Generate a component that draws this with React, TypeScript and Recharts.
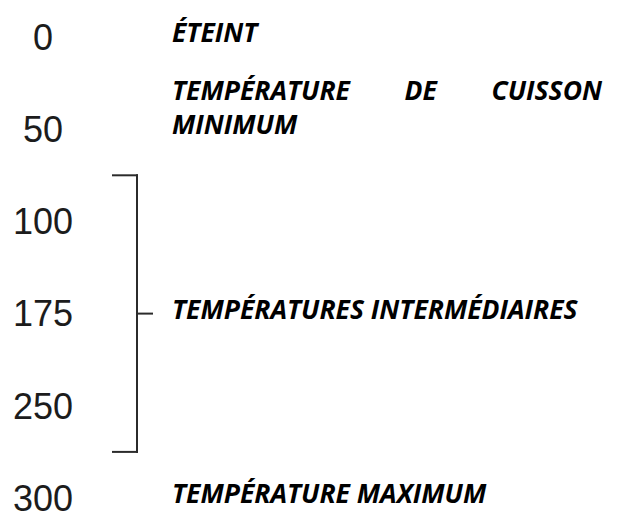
import React from 'react';
import { ComposedChart, XAxis, YAxis, Scatter, ReferenceLine } from 'recharts';

// ---- data ----
const temperatureTicks = ['0', '50', '100', '175', '250', '300'];
const rowIndex = [0, 1, 2, 3, 4, 5];
const labelRows = [0, 1, 3, 5];
const labelTexts = [
  ['ÉTEINT'],
  ['TEMPÉRATURE DE CUISSON', 'MINIMUM'],
  ['TEMPÉRATURES INTERMÉDIAIRES'],
  ['TEMPÉRATURE MAXIMUM'],
];
const bracketSpan = [1.5, 4.5];
const bracketMidRow = 3;

// ---- style ----
const W = 618;
const H = 518;
const AXIS_W = 86;
const PLOT_W = W - AXIS_W;
const NUM_CX = 43;
const NUM_FONT = "'Liberation Sans', Arial, sans-serif";
const NUM_SIZE = 36;
const LABEL_FONT_FAMILY = "'Open Sans'";
const LABEL_SIZE = 26.5;
const LABEL_LINE_H = 34;
const LABEL_BASE_DY = 5;
const LABEL_X = 86; // offset inside plot
const JUSTIFY_W = 430;
const ARM_L = 27;
const STEM = 51;
const TICK_R = 67;
const BRACKET_COLOR = '#2b2b2b';

const measureCanvas = typeof document !== 'undefined' ? document.createElement('canvas') : null;
const measure = (text: string) => {
  if (!measureCanvas) return text.length * LABEL_SIZE * 0.62;
  const ctx = measureCanvas.getContext('2d');
  if (!ctx) return text.length * LABEL_SIZE * 0.62;
  ctx.font = `italic bold ${LABEL_SIZE}px ${LABEL_FONT_FAMILY}`;
  return ctx.measureText(text).width;
};

const labelData = labelRows.map((row, i) => ({ row, x: LABEL_X, lines: labelTexts[i] }));

const NumberTick = (props: any) => {
  const { y, payload } = props;
  return (
    <text
      x={NUM_CX}
      y={y}
      dy="0.355em"
      textAnchor="middle"
      fontFamily={NUM_FONT}
      fontSize={NUM_SIZE}
      fill="#1c1c1c"
    >
      {temperatureTicks[payload.value]}
    </text>
  );
};

const LabelShape = (props: any) => {
  const { cx, cy } = props;
  const entry = props.payload ?? props;
  const lines: string[] = entry.lines || [];
  const n = lines.length;
  return (
    <g>
      {lines.map((line, li) => {
        const baseY = cy + LABEL_BASE_DY - (n - 1 - li) * LABEL_LINE_H;
        const justify = li < n - 1;
        const common = {
          fontFamily: LABEL_FONT_FAMILY,
          fontStyle: 'italic',
          fontWeight: 700,
          fontSize: LABEL_SIZE,
          fill: '#000',
        } as const;
        if (!justify) {
          return (
            <text key={li} x={cx} y={baseY} {...common}>
              {line}
            </text>
          );
        }
        const words = line.split(' ');
        const widths = words.map(measure);
        const total = widths.reduce((a, b) => a + b, 0);
        const gap = (JUSTIFY_W - total) / (words.length - 1);
        let acc = cx;
        return (
          <text key={li} y={baseY} {...common}>
            {words.map((w, wi) => {
              const xPos = acc;
              acc += widths[wi] + gap;
              return (
                <tspan key={wi} x={xPos}>
                  {w}
                </tspan>
              );
            })}
          </text>
        );
      })}
    </g>
  );
};

export default function App() {
  return (
    <div style={{ position: 'absolute', left: 0, top: 0, background: '#fff' }}>
      <ComposedChart
        width={W}
        height={H}
        margin={{ top: 37, right: 0, bottom: 20, left: 0 }}
      >
        <XAxis type="number" dataKey="x" domain={[0, PLOT_W]} hide allowDataOverflow />
        <YAxis
          type="number"
          dataKey="row"
          domain={[0, 5]}
          reversed
          ticks={rowIndex}
          interval={0}
          width={AXIS_W}
          axisLine={false}
          tickLine={false}
          tick={<NumberTick />}
        />
        <ReferenceLine
          segment={[{ x: ARM_L, y: bracketSpan[0] }, { x: STEM, y: bracketSpan[0] }]}
          stroke={BRACKET_COLOR}
          strokeWidth={2}
          strokeLinecap="square"
        />
        <ReferenceLine
          segment={[{ x: STEM, y: bracketSpan[0] }, { x: STEM, y: bracketSpan[1] }]}
          stroke={BRACKET_COLOR}
          strokeWidth={2}
          strokeLinecap="square"
        />
        <ReferenceLine
          segment={[{ x: ARM_L, y: bracketSpan[1] }, { x: STEM, y: bracketSpan[1] }]}
          stroke={BRACKET_COLOR}
          strokeWidth={2}
          strokeLinecap="square"
        />
        <ReferenceLine
          segment={[{ x: STEM, y: bracketMidRow }, { x: TICK_R, y: bracketMidRow }]}
          stroke={BRACKET_COLOR}
          strokeWidth={2}
        />
        <Scatter
          data={labelData}
          dataKey="row"
          shape={<LabelShape />}
          isAnimationActive={false}
        />
      </ComposedChart>
    </div>
  );
}
